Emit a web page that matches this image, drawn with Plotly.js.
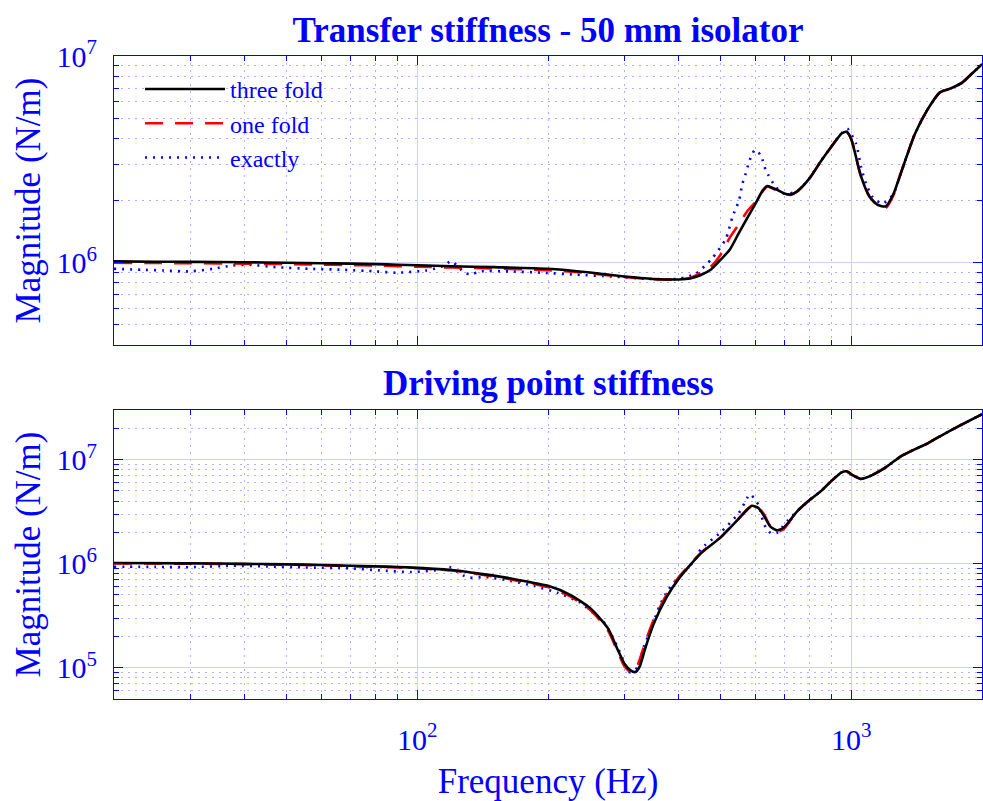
<!DOCTYPE html>
<html><head><meta charset="utf-8">
<script src="https://cdn.plot.ly/plotly-3.0.1.min.js"></script>
<style>html,body{margin:0;padding:0;background:#fff}</style>
</head><body>
<div id="chart" style="width:983px;height:801px"></div>
<script>
// ---------- data ----------
const seriesNames = ['three fold', 'one fold', 'exactly'];

// Transfer stiffness (top)
const freqTransfer = [20,25,30,40,50,60,70,80,90,100,120,150,200,250,300,350,400,425,450,475,500,525,550,575,600,625,640,650,675,700,725,750,800,850,900,950,975,1000,1050,1100,1150,1200,1250,1300,1400,1500,1600,1700,1800,1900,2000];
const transferThreeFold = [1.015e6,1.012e6,1.010e6,1.006e6,1.000e6,0.995e6,0.990e6,0.985e6,0.978e6,0.972e6,0.962e6,0.952e6,0.935e6,0.897e6,0.858e6,0.835e6,0.830e6,0.839e6,0.873e6,0.928e6,1.035e6,1.16e6,1.386e6,1.638e6,1.915e6,2.239e6,2.349e6,2.327e6,2.25e6,2.163e6,2.141e6,2.214e6,2.551e6,3.088e6,3.647e6,4.22e6,4.297e6,3.95e6,2.66e6,2.094e6,1.905e6,1.873e6,2.15e6,2.708e6,4.18e6,5.53e6,6.67e6,6.99e6,7.43e6,8.25e6,9.12e6];
const transferOneFold = [1.000e6,0.997e6,0.995e6,0.990e6,0.985e6,0.980e6,0.975e6,0.970e6,0.963e6,0.957e6,0.948e6,0.938e6,0.921e6,0.890e6,0.853e6,0.832e6,0.830e6,0.845e6,0.897e6,0.960e6,1.097e6,1.326e6,1.532e6,1.77e6,1.96e6,2.22e6,2.34e6,2.32e6,2.23e6,2.15e6,2.13e6,2.21e6,2.551e6,3.088e6,3.647e6,4.22e6,4.297e6,3.95e6,2.66e6,2.094e6,1.89e6,1.84e6,2.12e6,2.708e6,4.18e6,5.53e6,6.67e6,6.99e6,7.43e6,8.25e6,9.12e6];
const freqTransferExact = [20,23.1,26,29.9,33.8,37.5,41,47.4,56.4,67.3,80.4,89.5,104.9,114.2,119.8,124.9,128.3,133.2,138.9,162.9,194.1,232.2,281,341,401,438,477,514,532,551,561,571,581,591.6,600.2,618.6,635.3,669.9,700,750,800,850,900,950,979,1025,1053,1081,1119,1180,1250,1300,1400,1500,1600,1700,1800,1900,2000];
const transferExact = [0.935e6,0.925e6,0.918e6,0.908e6,0.935e6,0.970e6,0.978e6,0.952e6,0.935e6,0.925e6,0.908e6,0.895e6,0.918e6,0.960e6,1.018e6,0.946e6,0.895e6,0.878e6,0.908e6,0.908e6,0.895e6,0.875e6,0.858e6,0.835e6,0.837e6,0.885e6,1.046e6,1.307e6,1.663e6,2.002e6,2.412e6,2.697e6,3.069e6,3.37e6,3.524e6,3.307e6,2.798e6,2.323e6,2.16e6,2.214e6,2.56e6,3.1e6,3.66e6,4.25e6,4.453e6,3.767e6,2.902e6,2.412e6,2.078e6,1.93e6,2.15e6,2.71e6,4.18e6,5.53e6,6.67e6,6.99e6,7.43e6,8.25e6,9.12e6];

// Driving point stiffness (bottom)
const freqDriving = [20,30,40,50,60,70,80,90,100,120,140,160,180,200,225,250,275,290,300,310,318,325,335,350,375,400,450,500,550,575,590,610,630,650,675,700,750,800,850,900,950,975,1000,1050,1100,1200,1300,1400,1500,1600,1800,2000];
const drivingThreeFold = [1.013e6,1.007e6,0.996e6,0.985e6,0.970e6,0.953e6,0.942e6,0.928e6,0.911e6,0.868e6,0.798e6,0.734e6,0.668e6,0.612e6,0.501e6,0.375e6,0.2387e6,0.1466e6,0.1093e6,0.0942e6,0.0908e6,0.1018e6,0.1533e6,0.2608e6,0.474e6,0.714e6,1.256e6,1.79e6,2.7e6,3.3e6,3.6e6,3.44e6,2.85e6,2.284e6,2.09e6,2.234e6,3.184e6,4.06e6,4.955e6,6.25e6,7.55e6,7.72e6,7.22e6,6.53e6,6.9e6,8.43e6,10.76e6,12.56e6,14.35e6,16.76e6,21.8e6,27.3e6];
const drivingOneFold = [1.005e6,1.000e6,0.990e6,0.978e6,0.963e6,0.946e6,0.935e6,0.920e6,0.903e6,0.858e6,0.785e6,0.720e6,0.652e6,0.595e6,0.485e6,0.360e6,0.228e6,0.140e6,0.103e6,0.0905e6,0.0965e6,0.118e6,0.175e6,0.285e6,0.500e6,0.740e6,1.27e6,1.8e6,2.72e6,3.32e6,3.58e6,3.48e6,2.95e6,2.3e6,2.03e6,2.17e6,3.18e6,4.06e6,4.955e6,6.25e6,7.55e6,7.72e6,7.22e6,6.53e6,6.9e6,8.43e6,10.76e6,12.56e6,14.35e6,16.76e6,21.8e6,27.3e6];
const freqDrivingExact = [20,25,30,37.5,45,55,70,81.7,96.7,113.4,118.5,127.2,132.2,143.9,164.4,185.9,210.2,236,260.1,267.1,279.2,289.2,297,302.4,307.7,314.4,321.6,327.4,333.2,342.2,351.4,360.6,373.7,390.5,408.2,438.3,450,500,550,575,581,590,600,612,625,637,655,675,693,714,750,800,850,900,950,975,1000,1050,1100,1200,1300,1400,1500,1600,1800,2000];
const drivingExact = [0.935e6,0.93e6,0.925e6,0.955e6,0.94e6,0.92e6,0.90e6,0.862e6,0.83e6,0.876e6,0.927e6,0.772e6,0.734e6,0.743e6,0.681e6,0.609e6,0.526e6,0.427e6,0.311e6,0.285e6,0.212e6,0.158e6,0.122e6,0.1014e6,0.0908e6,0.0908e6,0.1014e6,0.1265e6,0.1638e6,0.212e6,0.285e6,0.3825e6,0.515e6,0.665e6,0.801e6,1.117e6,1.38e6,2.0e6,3.05e6,4.25e6,4.6e6,4.5e6,4.07e6,3.64e6,2.61e6,2.17e6,1.94e6,1.987e6,2.249e6,2.608e6,3.2e6,4.06e6,4.955e6,6.25e6,7.55e6,7.72e6,7.22e6,6.53e6,6.9e6,8.43e6,10.76e6,12.56e6,14.35e6,16.76e6,21.8e6,27.3e6];

// tick labels
const xTickVals = [100, 1000];
const xTickText = ['10<sup>2</sup>', '10<sup>3</sup>'];
const yTickVals = [1e5, 1e6, 1e7];
const yTickText = ['10<sup>5</sup>', '10<sup>6</sup>', '10<sup>7</sup>'];

const titleTop = 'Transfer stiffness - 50 mm isolator';
const titleBottom = 'Driving point stiffness';
const xTitle = 'Frequency (Hz)';
const yTitle = 'Magnitude (N/m)';

// ---------- styles ----------
const FONT = 'Liberation Serif, Times New Roman, serif';
const BLUE = '#0000ff';
const lineStyles = [
  {color: '#000000', width: 2.6, dash: 'solid'},
  {color: '#ff0000', width: 2.6, dash: '18px,12px'},
  {color: '#0000ff', width: 2.6, dash: '2px,6px'}
];

function tr(x, y, i, xa, ya, showleg) {
  return {x: x, y: y, name: seriesNames[i], type: 'scatter', mode: 'lines',
    xaxis: xa, yaxis: ya, showlegend: showleg, legendrank: i + 1,
    line: Object.assign({shape: 'spline', smoothing: 0.6}, lineStyles[i])};
}

// drawing order: exactly, one fold, three fold (black on top)
const data = [
  tr(freqTransferExact, transferExact, 2, 'x', 'y', true),
  tr(freqTransfer, transferOneFold, 1, 'x', 'y', true),
  tr(freqTransfer, transferThreeFold, 0, 'x', 'y', true),
  tr(freqDrivingExact, drivingExact, 2, 'x2', 'y2', false),
  tr(freqDriving, drivingOneFold, 1, 'x2', 'y2', false),
  tr(freqDriving, drivingThreeFold, 0, 'x2', 'y2', false)
];

function axis(extra) {
  return Object.assign({
    type: 'log', showline: true, linecolor: BLUE, linewidth: 1, mirror: 'ticks',
    ticks: 'inside', ticklen: 9, tickwidth: 1, tickcolor: BLUE,
    showgrid: true, gridcolor: 'rgb(208,208,255)', gridwidth: 1, zeroline: false,
    tickfont: {family: FONT, size: 30, color: BLUE},
    minor: {ticks: 'inside', ticklen: 5, tickwidth: 1, tickcolor: BLUE, dtick: 'D1',
            showgrid: true, gridcolor: 'rgb(175,175,255)', griddash: '2px,5px', gridwidth: 1}
  }, extra);
}

const xRange = [Math.log10(20), Math.log10(2000)];

const layout = {
  width: 983, height: 801,
  margin: {l: 114, r: 1, t: 56, b: 102},
  paper_bgcolor: '#ffffff', plot_bgcolor: '#ffffff',
  font: {family: FONT, color: BLUE},
  title: {text: titleTop, x: 0.5575, xanchor: 'center', y: 0.9625, yanchor: 'middle', yref: 'container',
          font: {family: FONT, size: 35, color: BLUE, weight: 'bold'}},
  xaxis: axis({domain: [0, 1], range: xRange, anchor: 'y', showticklabels: false,
               tickmode: 'array', tickvals: xTickVals, ticktext: xTickText}),
  yaxis: axis({domain: [0.5505, 1], range: [Math.log10(4e5), 7], anchor: 'x',
               tickmode: 'array', tickvals: yTickVals, ticktext: yTickText, ticklabelstandoff: 10,
               title: {text: yTitle, font: {family: FONT, size: 35, color: BLUE}, standoff: 5}}),
  xaxis2: axis({domain: [0, 1], range: xRange, anchor: 'y2', matches: 'x',
                tickmode: 'array', tickvals: xTickVals, ticktext: xTickText, ticklabelstandoff: 14,
                title: {text: xTitle, font: {family: FONT, size: 35, color: BLUE}, standoff: 16}}),
  yaxis2: axis({domain: [0, 0.4495], range: [Math.log10(5e4), Math.log10(3e7)], anchor: 'x2',
                tickmode: 'array', tickvals: yTickVals, ticktext: yTickText, ticklabelstandoff: 10,
                title: {text: yTitle, font: {family: FONT, size: 35, color: BLUE}, standoff: 5}}),
  legend: {x: 0.03, y: 0.983, xanchor: 'left', yanchor: 'top', xref: 'paper', yref: 'paper',
           bgcolor: 'rgba(0,0,0,0)', borderwidth: 0, itemwidth: 80, traceorder: 'normal',
           tracegroupgap: 0, font: {family: FONT, size: 24, color: BLUE}},
  annotations: [{text: titleBottom, xref: 'paper', yref: 'paper', x: 0.5, y: 0.4907,
                 xanchor: 'center', yanchor: 'middle', showarrow: false,
                 font: {family: FONT, size: 35, color: BLUE, weight: 'bold'}}]
};

Plotly.newPlot('chart', data, layout, {displayModeBar: false, staticPlot: true});
</script>
</body></html>
